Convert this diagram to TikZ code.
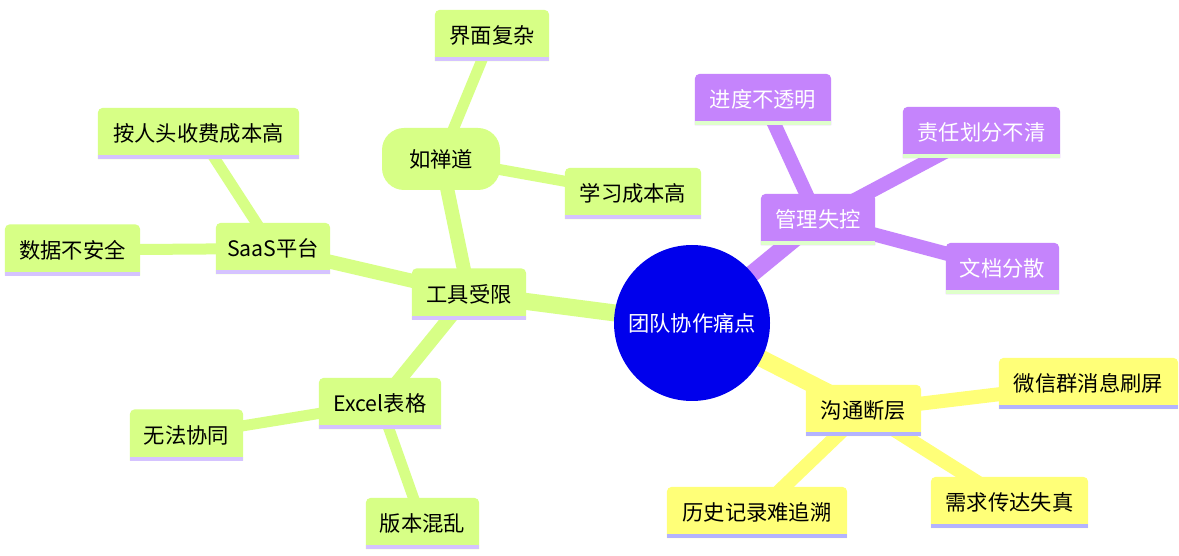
\documentclass[tikz,border=0pt]{standalone}
\usepackage{fontspec}
\setmainfont{Noto Sans CJK SC}
\definecolor{rootc}{HTML}{0000EC}
\definecolor{grn}{HTML}{D7FF86}
\definecolor{grnU}{HTML}{D5C3FF}
\definecolor{pur}{HTML}{C584FC}
\definecolor{purU}{HTML}{DFFFCB}
\definecolor{yel}{HTML}{FFFF78}
\definecolor{yelU}{HTML}{B3B3FF}
\pgfdeclarelayer{back}
\pgfdeclarelayer{edges}
\pgfdeclarelayer{bg}
\pgfsetlayers{back,edges,bg,main}
\newcommand\mmbox[3]{%
  \fill[#2] (#1.south west) -- ([yshift=-5pt]#1.north west)
    arc[start angle=180,end angle=90,radius=5pt]
    -- ([xshift=-5pt]#1.north east)
    arc[start angle=90,end angle=0,radius=5pt]
    -- (#1.south east) -- cycle;
  \fill[#3] (#1.south west) rectangle ([yshift=4pt]#1.south east);
}
\tikzset{
  mm/.style={minimum width=#1, minimum height=51pt, inner sep=0pt, font=\fontsize{21.3}{25}\selectfont},
  mmw/.style={mm=#1, text=white},
  e0/.style={line width=17pt},
  e1/.style={line width=14pt},
  e2/.style={line width=11pt},
}
\begin{document}
\begin{tikzpicture}[x=1pt,y=1pt]
\begin{pgfonlayer}{back}
\fill[white] (0,0) rectangle (1179,555);
\end{pgfonlayer}
\useasboundingbox (0,0) rectangle (1179,555);

\node[circle, fill=rootc, minimum size=156pt, inner sep=0pt, text=white, font=\fontsize{21.3}{25}\selectfont] (root) at (692,232) {团队协作痛点};

% tools branch
\node[mm=114pt] (T) at (469,261) {工具受限};
\node[fill=grn, rounded corners=22pt, minimum width=118pt, minimum height=62pt, inner sep=0pt, font=\fontsize{21.3}{25}\selectfont] (R) at (441,396) {如禅道};
\node[mm=114pt] (R1) at (492,519.5) {界面复杂};
\node[mm=136pt] (R2) at (633,361.5) {学习成本高};
\node[mm=114pt] (S) at (273,306.5) {SaaS平台};
\node[mm=201pt] (S1) at (198.5,421.5) {按人头收费成本高};
\node[mm=135pt] (S2) at (72.5,305) {数据不安全};
\node[mm=122pt] (E) at (380,151.5) {Excel表格};
\node[mm=113pt] (E1) at (186.5,120) {无法协同};
\node[mm=113pt] (E2) at (422.5,31.5) {版本混乱};

% management branch
\node[mmw=114pt] (M) at (818,335.5) {管理失控};
\node[mmw=136pt] (M1) at (763,455.5) {进度不透明};
\node[mmw=157pt] (M2) at (981.5,422.5) {责任划分不清};
\node[mmw=113pt] (M3) at (1002.5,286.5) {文档分散};

% communication branch
\node[mm=115pt] (C) at (863.5,144.5) {沟通断层};
\node[mm=179pt] (C1) at (1088.5,171.5) {微信群消息刷屏};
\node[mm=157pt] (C2) at (1009.5,52.5) {需求传达失真};
\node[mm=180pt] (C3) at (757,42.5) {历史记录难追溯};

\begin{pgfonlayer}{edges}
\draw[grn,e0] (root.center) -- (T.center);
\draw[grn,e1] (T.center) -- (R.center);
\draw[grn,e1] (T.center) -- (S.center);
\draw[grn,e1] (T.center) -- (E.center);
\draw[grn,e2] (R.center) -- (R1.center);
\draw[grn,e2] (R.center) -- (R2.center);
\draw[grn,e2] (S.center) -- (S1.center);
\draw[grn,e2] (S.center) -- (S2.center);
\draw[grn,e2] (E.center) -- (E1.center);
\draw[grn,e2] (E.center) -- (E2.center);
\draw[pur,e0] (root.center) -- (M.center);
\draw[pur,e1] (M.center) -- (M1.center);
\draw[pur,e1] (M.center) -- (M2.center);
\draw[pur,e1] (M.center) -- (M3.center);
\draw[yel,e0] (root.center) -- (C.center);
\draw[yel,e1] (C.center) -- (C1.center);
\draw[yel,e1] (C.center) -- (C2.center);
\draw[yel,e1] (C.center) -- (C3.center);
\end{pgfonlayer}

\begin{pgfonlayer}{bg}
\mmbox{T}{grn}{grnU}
\mmbox{R1}{grn}{grnU}
\mmbox{R2}{grn}{grnU}
\mmbox{S}{grn}{grnU}
\mmbox{S1}{grn}{grnU}
\mmbox{S2}{grn}{grnU}
\mmbox{E}{grn}{grnU}
\mmbox{E1}{grn}{grnU}
\mmbox{E2}{grn}{grnU}
\mmbox{M}{pur}{purU}
\mmbox{M1}{pur}{purU}
\mmbox{M2}{pur}{purU}
\mmbox{M3}{pur}{purU}
\mmbox{C}{yel}{yelU}
\mmbox{C1}{yel}{yelU}
\mmbox{C2}{yel}{yelU}
\mmbox{C3}{yel}{yelU}
\end{pgfonlayer}
\end{tikzpicture}
\end{document}
